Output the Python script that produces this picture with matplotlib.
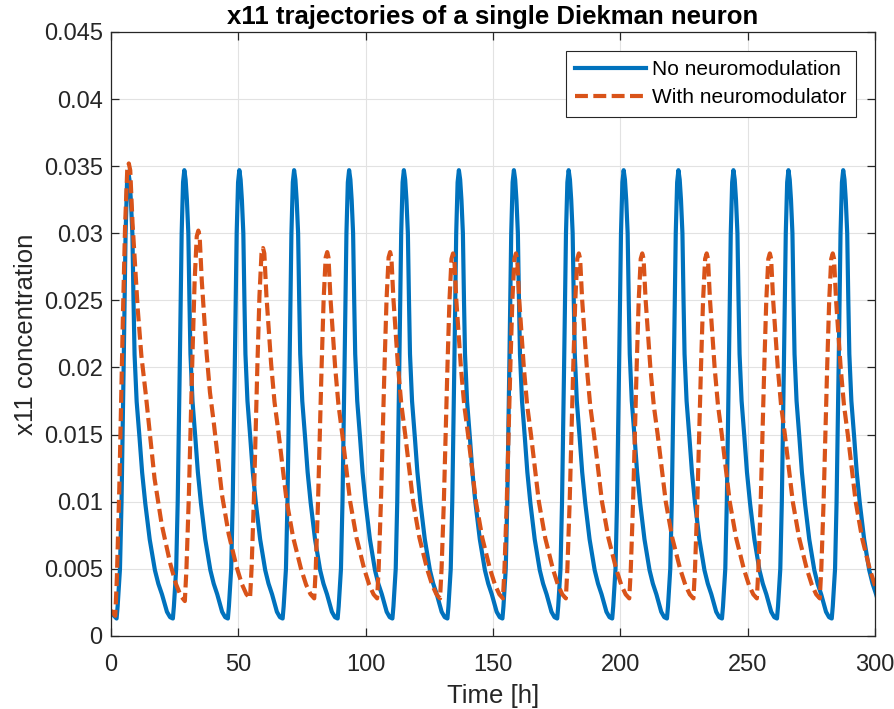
import matplotlib
matplotlib.use("Agg")
import matplotlib.pyplot as plt
import numpy as np

# ---- data ------------------------------------------------------------------
# No neuromodulation (blue): troughs / peaks of every cycle
blue_start_t = [0.0, 1.2]
blue_start_v = [0.0018, 0.0015]
blue_trough_t = [2.2, 24.3, 45.9, 67.4, 89.0, 110.5, 132.1, 153.7,
                 175.2, 196.8, 218.3, 239.9, 261.5, 283.0, 304.6]
blue_trough_v = [0.0013] * 15
blue_peak_t = [6.8, 28.8, 50.4, 71.9, 93.5, 115.0, 136.6, 158.2,
               179.7, 201.3, 222.8, 244.4, 266.0, 287.5]
blue_peak_v = [0.0346, 0.0347, 0.0347, 0.0347, 0.0347, 0.0347, 0.0347,
               0.0347, 0.0347, 0.0347, 0.0347, 0.0347, 0.0347, 0.0347]
# one blue cycle as read at t~89..110 h (hours from peak, value)
blue_rise_dt = [-4.5, -4.1, -3.2, -2.6, -2.2, -1.8, -1.05, -0.5, 0.0]
blue_rise_v = [0.0013, 0.0022, 0.0050, 0.0100, 0.0150, 0.0200, 0.0300, 0.0338, 0.0347]
blue_fall_dt = [0.0, 0.5, 1.0, 1.57, 2.0, 2.4, 3.2, 4.3, 5.3, 6.5, 8.2,
                10.2, 11.5, 12.9, 14.8, 16.0, 17.06]
blue_fall_v = [0.0347, 0.0340, 0.0325, 0.0300, 0.0250, 0.0210, 0.0175, 0.0148,
               0.0122, 0.0099, 0.0072, 0.0049, 0.0039, 0.0031, 0.0018, 0.0014, 0.0013]

# With neuromodulator (orange)
orange_start_t = [0.0, 0.8]
orange_start_v = [0.0019, 0.0017]
orange_trough_t = [1.7, 29.0, 54.6, 79.8, 104.5, 129.2, 153.9, 178.6,
                   203.5, 228.7, 253.6, 278.3, 303.0]
orange_trough_v = [0.0015, 0.0026, 0.0028, 0.0028, 0.0028, 0.0028, 0.0028,
                   0.0028, 0.0028, 0.0028, 0.0028, 0.0028, 0.0028]
orange_peak_t = [7.0, 34.3, 59.7, 84.9, 109.6, 134.3, 159.0, 183.7,
                 208.6, 233.9, 258.7, 283.4]
orange_peak_v = [0.0352, 0.0302, 0.0289, 0.0286, 0.0286, 0.0285, 0.0285,
                 0.0285, 0.0285, 0.0285, 0.0285, 0.0285]
# one orange cycle as read at t~80..104 h
orange_rise_dt = [-5.1, -4.5, -3.6, -2.9, -2.2, -1.4, -0.6, 0.0]
orange_rise_v = [0.0028, 0.0050, 0.0100, 0.0150, 0.0200, 0.0250, 0.0281, 0.0285]
orange_fall_dt = [0.0, 0.5, 1.3, 3.1, 4.4, 5.9, 9.0, 11.5, 14.5, 16.5, 18.2, 19.6]
orange_fall_v = [0.0285, 0.0281, 0.0250, 0.0200, 0.0172, 0.0150, 0.0100,
                 0.0073, 0.0050, 0.0038, 0.0031, 0.0028]

x_ticks = [0, 50, 100, 150, 200, 250, 300]
y_ticks = [0, 0.005, 0.01, 0.015, 0.02, 0.025, 0.03, 0.035, 0.04, 0.045]
y_tick_labels = ["0", "0.005", "0.01", "0.015", "0.02", "0.025",
                 "0.03", "0.035", "0.04", "0.045"]
series_labels = ["No neuromodulation", "With neuromodulator"]


def build_trace(start_t, start_v, trough_t, trough_v, peak_t, peak_v,
                rise_dt, rise_v, fall_dt, fall_v):
    # place the read cycle shape between each read trough and peak
    rise_dt, rise_v = np.array(rise_dt), np.array(rise_v)
    fall_dt, fall_v = np.array(fall_dt), np.array(fall_v)
    rise_tf = (rise_dt - rise_dt[0]) / (rise_dt[-1] - rise_dt[0])
    rise_af = (rise_v - rise_v[0]) / (rise_v[-1] - rise_v[0])
    fall_tf = (fall_dt - fall_dt[0]) / (fall_dt[-1] - fall_dt[0])
    fall_af = (fall_v - fall_v[-1]) / (fall_v[0] - fall_v[-1])

    t_list, v_list = list(start_t), list(start_v)
    for i in range(len(peak_t)):
        t0, v0 = trough_t[i], trough_v[i]
        tp, vp = peak_t[i], peak_v[i]
        t1, v1 = trough_t[i + 1], trough_v[i + 1]
        t_list += list(t0 + rise_tf[:-1] * (tp - t0))
        v_list += list(v0 + rise_af[:-1] * (vp - v0))
        t_list += list(tp + fall_tf[:-1] * (t1 - tp))
        v_list += list(v1 + fall_af[:-1] * (vp - v1))
    t_list.append(trough_t[-1])
    v_list.append(trough_v[-1])
    return np.array(t_list), np.array(v_list)


blue_t, blue_v = build_trace(blue_start_t, blue_start_v, blue_trough_t, blue_trough_v,
                             blue_peak_t, blue_peak_v, blue_rise_dt, blue_rise_v,
                             blue_fall_dt, blue_fall_v)
orange_t, orange_v = build_trace(orange_start_t, orange_start_v, orange_trough_t,
                                 orange_trough_v, orange_peak_t, orange_peak_v,
                                 orange_rise_dt, orange_rise_v,
                                 orange_fall_dt, orange_fall_v)

# ---- plot ------------------------------------------------------------------
plt.rcParams["font.family"] = ["Liberation Sans", "DejaVu Sans"]

fig = plt.figure(figsize=(8.95, 7.09), dpi=100)
ax = fig.add_axes([0.124, 0.103, 0.8537, 0.852])

ax.plot(blue_t, blue_v, color="#0072BD", lw=3.0, label=series_labels[0],
        solid_joinstyle="round")
ax.plot(orange_t, orange_v, color="#D95319", lw=3.0, label=series_labels[1],
        dashes=(3.1, 1.3))

ax.set_xlim(0, 300)
ax.set_ylim(0, 0.045)
ax.set_xticks(x_ticks)
ax.set_yticks(y_ticks)
ax.set_yticklabels(y_tick_labels)

ax.grid(True, color="#E2E2E2", lw=0.8)
ax.set_axisbelow(True)
for s in ax.spines.values():
    s.set_color("#262626")
    s.set_linewidth(0.9)
ax.tick_params(direction="in", length=5.5, width=0.9, colors="#262626",
               labelsize=17, top=True, right=True)
ax.tick_params(axis="y", pad=6)
ax.tick_params(axis="x", pad=13)

ax.set_xlabel("Time [h]", fontsize=18.5, color="#262626", labelpad=6)
ax.set_ylabel("x11 concentration", fontsize=18.5, color="#262626", labelpad=4)
ax.set_title("x11 trajectories of a single Diekman neuron", fontsize=18.5,
             fontweight="bold", pad=6)

leg = ax.legend(loc="upper right", fontsize=15, fancybox=False, framealpha=1,
                edgecolor="#262626", borderaxespad=0.9, handlelength=3.4,
                handletextpad=0.3, labelspacing=0.45, borderpad=0.45)
leg.get_frame().set_linewidth(0.8)

plt.savefig("out.png", dpi=100)
